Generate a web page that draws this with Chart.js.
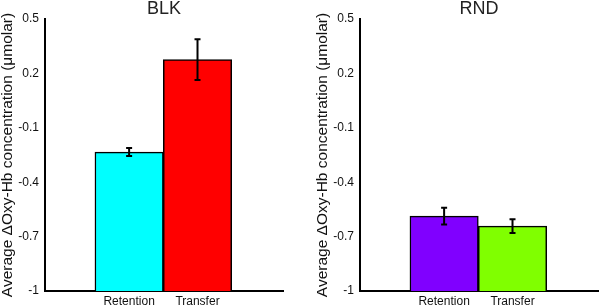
<!DOCTYPE html>
<html>
<head>
<meta charset="utf-8">
<script src="https://cdn.jsdelivr.net/npm/chart.js@4.4.1/dist/chart.umd.min.js"></script>
<style>
  body { margin: 0; background: #fff; width: 600px; height: 306px; position: relative; overflow: hidden; }
  #blk { position: absolute; left: 0; top: 0; }
  #rnd { position: absolute; left: 315px; top: 0; }
</style>
</head>
<body>
<canvas id="blk" width="300" height="306"></canvas>
<canvas id="rnd" width="285" height="306"></canvas>
<script>
const conditions = ["Retention", "Transfer"];
const blkMeans = [-0.234, 0.276];
const blkErrors = [0.022, 0.112];
const blkColors = ["#00ffff", "#ff0000"];
const rndMeans = [-0.587, -0.642];
const rndErrors = [0.046, 0.038];
const rndColors = ["#8000ff", "#80ff00"];
const yTicks = [-1, -0.7, -0.4, -0.1, 0.2, 0.5];
const yTitle = "Average \u0394Oxy-Hb concentration (\u03bcmolar)";

Chart.defaults.font.family = "'Liberation Sans', Arial, sans-serif";
Chart.defaults.color = "#111";

// draw mean +/- error whiskers on top of each bar
const errorBars = {
  id: "errorBars",
  afterDatasetsDraw(chart) {
    const ctx = chart.ctx;
    const y = chart.scales.y;
    const ds = chart.data.datasets[0];
    ctx.save();
    ctx.strokeStyle = "#000";
    ctx.lineWidth = 2;
    chart.getDatasetMeta(0).data.forEach((bar, i) => {
      const v = ds.data[i].y;
      const top = y.getPixelForValue(v + ds.errors[i]);
      const bot = y.getPixelForValue(v - ds.errors[i]);
      ctx.beginPath();
      ctx.moveTo(bar.x, top); ctx.lineTo(bar.x, bot);
      ctx.moveTo(bar.x - 3, top); ctx.lineTo(bar.x + 3, top);
      ctx.moveTo(bar.x - 3, bot); ctx.lineTo(bar.x + 3, bot);
      ctx.stroke();
    });
    ctx.restore();
  }
};

function makePanel(id, title, means, errors, colors, padRight) {
  new Chart(document.getElementById(id), {
    type: "bar",
    data: {
      datasets: [{
        data: conditions.map((c, i) => ({ x: i + 1, y: means[i] })),
        errors: errors,
        base: -1,
        backgroundColor: colors,
        borderColor: "#000",
        borderWidth: 1.5,
        barPercentage: 1,
        categoryPercentage: 1,
      }]
    },
    options: {
      responsive: false,
      animation: false,
      layout: { padding: { left: 0, right: padRight, top: 0, bottom: 0 } },
      plugins: {
        legend: { display: false },
        tooltip: { enabled: false },
        title: {
          display: true, text: title, fullSize: false,
          color: "#222",
          font: { size: 18, weight: "normal", lineHeight: 19 / 18 },
          padding: { top: 0, bottom: 0 }
        }
      },
      scales: {
        x: {
          type: "linear", min: -0.23, max: 3.25, offset: false,
          grid: { display: false, drawTicks: false },
          border: { display: true, color: "#000", width: 2 },
          afterBuildTicks: (s) => { s.ticks = conditions.map((c, i) => ({ value: i + 1 })); },
          afterFit: (s) => { s.height = 15; },
          ticks: {
            color: "#111", font: { size: 12 }, padding: 3,
            maxRotation: 0, autoSkip: false,
            callback: (v) => conditions[v - 1] || ""
          }
        },
        y: {
          min: -1, max: 0.5,
          grid: { display: false, drawTicks: false },
          border: { display: true, color: "#000", width: 2 },
          afterBuildTicks: (s) => { s.ticks = yTicks.map(v => ({ value: v })); },
          afterFit: (s) => { s.width = 45; },
          ticks: { color: "#111", font: { size: 12 }, padding: 6, callback: (v) => String(v) },
          title: {
            display: true, text: yTitle, color: "#111",
            font: { size: 15.5, lineHeight: 1 },
            padding: { top: 0, bottom: 0 }
          }
        }
      }
    },
    plugins: [errorBars]
  });
}

makePanel("blk", "BLK", blkMeans, blkErrors, blkColors, 17);
makePanel("rnd", "RND", rndMeans, rndErrors, rndColors, 2);
</script>
</body>
</html>
